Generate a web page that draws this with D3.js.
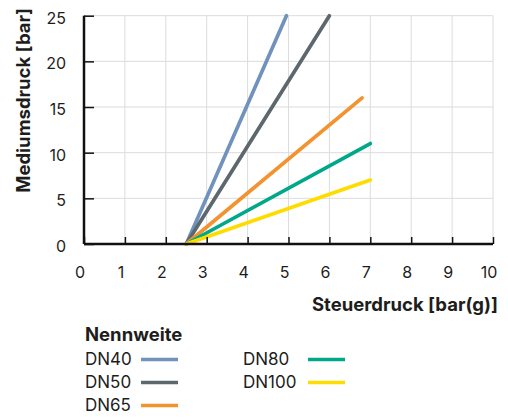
<!DOCTYPE html>
<html><head><meta charset="utf-8">
<script src="https://cdn.jsdelivr.net/npm/d3@7"></script>
<style>body{margin:0;background:#fff;} text{font-family:Inter, "Noto Sans", sans-serif;fill:#1d1d1b;}</style>
</head><body>
<svg id="c" width="508" height="418"></svg>
<script>
const seriesNames = ["DN40","DN50","DN65","DN80","DN100"];
const seriesColors = ["#7192bd","#5d676e","#f39330","#00a88a","#ffdc00"];
const startX = [2.5,2.5,2.5,2.5,2.5];
const startY = [0,0,0,0,0];
const endX = [4.95,6.0,6.8,7.0,7.0];
const endY = [25,25,16,11,7];
const xTicks = [0,1,2,3,4,5,6,7,8,9,10];
const yTicks = [0,5,10,15,20,25];
const xTitle = "Steuerdruck [bar(g)]";
const yTitle = "Mediumsdruck [bar]";
const legendTitle = "Nennweite";

const svg = d3.select("#c");
const x = d3.scaleLinear().domain([0,10]).range([84,493]);
const y = d3.scaleLinear().domain([0,25]).range([244,15.7]);

// grid
svg.append("g").selectAll("line.v").data(xTicks.slice(1)).join("line")
  .attr("x1",d=>x(d)).attr("x2",d=>x(d)).attr("y1",y(0)).attr("y2",y(25))
  .attr("stroke","#dcdcdc").attr("stroke-width",1);
svg.append("g").selectAll("line.h").data(yTicks.slice(1)).join("line")
  .attr("x1",x(0)).attr("x2",x(10)).attr("y1",d=>y(d)).attr("y2",d=>y(d))
  .attr("stroke","#dcdcdc").attr("stroke-width",1);

// series lines
const lines = svg.append("g");
seriesNames.forEach((n,i)=>{
  lines.append("path")
    .attr("d", d3.line().x(d=>x(d[0])).y(d=>y(d[1]))([[startX[i],startY[i]],[endX[i],endY[i]]]))
    .attr("stroke",seriesColors[i]).attr("stroke-width",3.7).attr("fill","none")
    .attr("stroke-linecap","round");
});

// axes
const xAxis = svg.append("g").attr("transform",`translate(0,${y(0)})`)
  .call(d3.axisBottom(x).tickValues(xTicks).tickSize(-7).tickPadding(0).tickFormat(d3.format("d")));
xAxis.select(".domain").attr("stroke","#111").attr("stroke-width",2.5).attr("d",`M${x(0)},0H${x(10)}`);
xAxis.selectAll(".tick line").attr("stroke","#111").attr("stroke-width",1.5);
xAxis.selectAll(".tick text").attr("x",-4.5).attr("y",34).attr("dy",0).attr("font-size",16).attr("fill","#1d1d1b").attr("font-family","Inter");

const yAxis = svg.append("g").attr("transform",`translate(${x(0)},0)`)
  .call(d3.axisLeft(y).tickValues(yTicks).tickSize(-10).tickPadding(0).tickFormat(d3.format("d")));
yAxis.select(".domain").attr("stroke","#111").attr("stroke-width",2.5).attr("d",`M0,${y(0)}V${y(25)}`);
yAxis.selectAll(".tick line").attr("stroke","#111").attr("stroke-width",1.5);
yAxis.selectAll(".tick text").attr("x",-18).attr("dy",7.5).attr("font-size",16).attr("fill","#1d1d1b").attr("font-family","Inter");

svg.append("text").attr("x",498).attr("y",311).attr("text-anchor","end")
  .attr("font-size",18.5).attr("font-weight",700).text(xTitle);
svg.append("text").attr("transform","translate(30,8) rotate(-90)").attr("text-anchor","end")
  .attr("font-size",18.5).attr("font-weight",700).text(yTitle);

// legend
svg.append("text").attr("x",85).attr("y",341).attr("font-size",18.5).attr("font-weight",700).text(legendTitle);
const legendCol = [0,0,0,1,1];
const legendRow = [0,1,2,0,1];
const colX = [85,243];
const lineX = [141,308];
seriesNames.forEach((n,i)=>{
  const yy = 365 + legendRow[i]*23;
  svg.append("text").attr("x",colX[legendCol[i]]).attr("y",yy).attr("font-size",17).text(n);
  svg.append("line").attr("x1",lineX[legendCol[i]]).attr("x2",lineX[legendCol[i]]+37)
    .attr("y1",yy-5.5).attr("y2",yy-5.5).attr("stroke",seriesColors[i]).attr("stroke-width",3.7);
});
</script>
</body></html>
